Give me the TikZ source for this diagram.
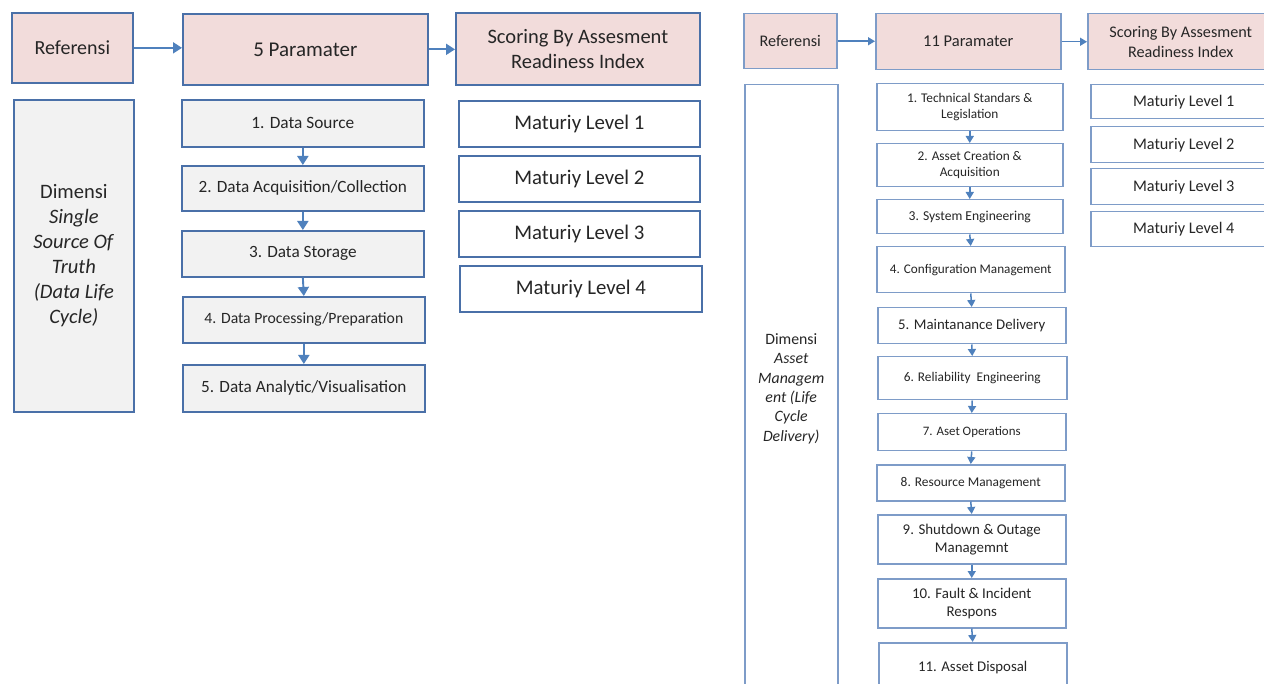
\documentclass[tikz,border=0pt]{standalone}
\usepackage{fontspec}
\setmainfont{Carlito}
\usetikzlibrary{arrows.meta}
\definecolor{pinkf}{HTML}{F2DCDB}
\definecolor{grayf}{HTML}{F2F2F2}
\definecolor{bordL}{HTML}{4A70A8}
\definecolor{bordR}{HTML}{7E9CC8}
\definecolor{arrowc}{HTML}{4F81BD}
\definecolor{txt}{HTML}{262626}
\newcommand\mybox[7]{\node[#6, anchor=north west, minimum width={(#4-#2)*1pt}, minimum height={(#5-#3)*1pt}] (#1) at (#2,#3) {#7};}
\newcommand\fs[1]{\fontsize{#1}{\fpeval{#1*1.22}}\selectfont}
\tikzset{
  boxL/.style={draw=bordL, line width=1.7pt, text=txt, inner sep=1pt, align=center},
  boxR/.style={draw=bordR, line width=1.5pt, text=txt, inner sep=1pt, align=center},
  arrL/.style={draw=arrowc, line width=1.9pt, -{Triangle[length=9pt,width=11pt]}},
  arrS/.style={draw=arrowc, line width=1.5pt, -{Triangle[length=7pt,width=8pt]}},
}
\begin{document}
\begin{tikzpicture}[x=1pt,y=-1pt]
\useasboundingbox (0,0) rectangle (1264,684);
\clip (0,0) rectangle (1264,684);
\fill[white] (0,0) rectangle (1264,684);
% ---------- left diagram ----------
\mybox{refL}{11}{12}{132}{82}{boxL,fill=pinkf,font=\fs{20}}{Referensi}
\mybox{parL}{182}{13}{427}{84}{boxL,fill=pinkf,font=\fs{21}}{5 Paramater}
\mybox{scoL}{455}{12}{699}{84}{boxL,fill=pinkf,font=\fs{20.5}}{Scoring By Assesment\\Readiness Index}
\draw[arrL] (refL.east) -- (refL.east -| parL.west);
\draw[arrL] (parL.east) -- (parL.east -| scoL.west);
\mybox{dimL}{13}{99}{133}{411}{boxL,fill=grayf,font=\fs{20.5}}{Dimensi\\\textit{Single}\\\textit{Source Of}\\\textit{Truth}\\\textit{(Data Life}\\\textit{Cycle)}}
\mybox{dL1}{181}{99}{423}{146}{boxL,fill=grayf,font=\fs{17.3}}{1. Data Source}
\mybox{dL2}{181}{165}{423}{210}{boxL,fill=grayf,font=\fs{17.2}}{2. Data Acquisition/Collection}
\mybox{dL3}{181}{230}{423}{276}{boxL,fill=grayf,font=\fs{17.2}}{3. Data Storage}
\mybox{dL4}{182}{296}{424}{342}{boxL,fill=grayf,font=\fs{15.7}}{4. Data Processing/Preparation}
\mybox{dL5}{182}{364}{424}{411}{boxL,fill=grayf,font=\fs{17.2}}{5. Data Analytic/Visualisation}
\draw[arrL] (dL1.south) -- (dL2.north);
\draw[arrL] (dL2.south) -- (dL3.north);
\draw[arrL] (dL3.south) -- (dL4.north);
\draw[arrL] (dL4.south) -- (dL5.north);
\mybox{mL1}{458}{100}{699}{146}{boxL,fill=white,font=\fs{20.8}}{Maturiy Level 1}
\mybox{mL2}{458}{155}{699}{201}{boxL,fill=white,font=\fs{20.8}}{Maturiy Level 2}
\mybox{mL3}{458}{210}{699}{256}{boxL,fill=white,font=\fs{20.8}}{Maturiy Level 3}
\mybox{mL4}{459}{265}{701}{311}{boxL,fill=white,font=\fs{20.8}}{Maturiy Level 4}
% ---------- right diagram ----------
\mybox{refR}{743}{13}{836}{68}{boxR,fill=pinkf,font=\fs{16.2}}{Referensi}
\mybox{parR}{875}{13}{1060}{69}{boxR,fill=pinkf,font=\fs{16.5}}{11 Paramater}
\mybox{scoR}{1087}{13}{1273}{69}{boxR,fill=pinkf,font=\fs{16.2}}{Scoring By Assesment\\Readiness Index}
\draw[arrS] (refR.east) -- (refR.east -| parR.west);
\draw[arrS] (parR.east) -- (parR.east -| scoR.west);
\mybox{dimR}{744}{84}{837}{692}{boxR,fill=white,font=\fs{15.8}}{Dimensi\\\textit{Asset}\\\textit{Managem}\\\textit{ent (Life}\\\textit{Cycle}\\\textit{Delivery)}}
\mybox{pR1}{876}{83}{1062}{130}{boxR,fill=white,font=\fs{13.3}}{1. Technical Standars \&\\Legislation}
\mybox{pR2}{876}{143}{1062}{186}{boxR,fill=white,font=\fs{13.3}}{2. Asset Creation \&\\Acquisition}
\mybox{pR3}{876}{199}{1062}{233}{boxR,fill=white,font=\fs{13.6}}{3. System Engineering}
\mybox{pR4}{876}{246}{1064}{292}{boxR,fill=white,font=\fs{13.2}}{4. Configuration Management}
\mybox{pR5}{877}{307}{1065}{343}{boxR,fill=white,font=\fs{14.8}}{5. Maintanance Delivery}
\mybox{pR6}{877}{356}{1066}{399}{boxR,fill=white,font=\fs{13.3}}{6. Reliability\ \ Engineering}
\mybox{pR7}{877}{413}{1065}{450}{boxR,fill=white,font=\fs{12.9}}{7. Aset Operations}
\mybox{pR8}{876}{464}{1064}{500}{boxR,fill=white,font=\fs{13.4}}{8. Resource Management}
\mybox{pR9}{877}{514}{1065}{563}{boxR,fill=white,font=\fs{14.9}}{9. Shutdown \& Outage\\Managemnt}
\mybox{pR10}{877}{578}{1065}{627}{boxR,fill=white,font=\fs{14.9}}{10. Fault \& Incident\\Respons}
\mybox{pR11}{878}{642}{1066}{692}{boxR,fill=white,font=\fs{14.8}}{11. Asset Disposal}
\foreach \a/\b in {pR1/pR2,pR2/pR3,pR3/pR4,pR4/pR5,pR5/pR6,pR6/pR7,pR7/pR8,pR8/pR9,pR9/pR10,pR10/pR11}
  \draw[arrS] (\a.south) -- (\b.north);
\mybox{mR1}{1090}{84}{1276}{118}{boxR,fill=white,font=\fs{16.2}}{Maturiy Level 1}
\mybox{mR2}{1090}{126}{1276}{162}{boxR,fill=white,font=\fs{16.2}}{Maturiy Level 2}
\mybox{mR3}{1090}{168}{1276}{204}{boxR,fill=white,font=\fs{16.2}}{Maturiy Level 3}
\mybox{mR4}{1090}{211}{1276}{246}{boxR,fill=white,font=\fs{16.2}}{Maturiy Level 4}
\end{tikzpicture}
\end{document}
